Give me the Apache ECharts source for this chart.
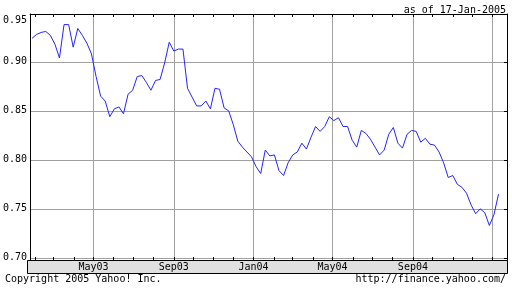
<!DOCTYPE html>
<html>
<head>
<meta charset="utf-8">
<script src="https://cdn.jsdelivr.net/npm/echarts@6/dist/echarts.min.js"></script>
<style>html,body{margin:0;padding:0;background:#fff}#c{width:512px;height:288px}</style>
</head>
<body>
<div id="c"></div>
<script>
// Weekly closing values, first week starting 2003-01-27
const startDate = '2003-01-27';
const values = [
  0.924, 0.928, 0.930, 0.931, 0.927, 0.918, 0.904, 0.938, 0.938, 0.915,
  0.934, 0.927, 0.919, 0.908, 0.885, 0.865, 0.860, 0.844, 0.852, 0.854,
  0.847, 0.867, 0.871, 0.885, 0.886, 0.879, 0.871, 0.881, 0.882, 0.899,
  0.920, 0.911, 0.913, 0.913, 0.873, 0.864, 0.855, 0.855, 0.860, 0.852,
  0.873, 0.872, 0.853, 0.850, 0.836, 0.819, 0.813, 0.808, 0.803, 0.793,
  0.786, 0.810, 0.804, 0.805, 0.789, 0.784, 0.797, 0.805, 0.808, 0.817,
  0.811, 0.823, 0.834, 0.829, 0.834, 0.844, 0.840, 0.843, 0.834, 0.834,
  0.820, 0.813, 0.830, 0.827, 0.821, 0.813, 0.805, 0.810, 0.826, 0.833,
  0.817, 0.812, 0.826, 0.830, 0.829, 0.818, 0.822, 0.816, 0.815, 0.808,
  0.797, 0.782, 0.784, 0.775, 0.772, 0.766, 0.754, 0.745, 0.750, 0.746,
  0.733, 0.744, 0.765
];
const gridDates = ['2003-05-01', '2003-09-01', '2004-01-01', '2004-05-01', '2004-09-01', '2005-01-01'];
const labelDates = ['2003-05-01', '2003-09-01', '2004-01-01', '2004-05-01', '2004-09-01'];
const monthTicks = [
  '2003-02-01','2003-03-01','2003-04-01','2003-05-01','2003-06-01','2003-07-01','2003-08-01',
  '2003-09-01','2003-10-01','2003-11-01','2003-12-01','2004-01-01','2004-02-01','2004-03-01',
  '2004-04-01','2004-05-01','2004-06-01','2004-07-01','2004-08-01','2004-09-01','2004-10-01',
  '2004-11-01','2004-12-01','2005-01-01'
];
const xMinDate = '2003-01-24', xMaxDate = '2005-01-23';
const yMin = 0.6978, yMax = 0.9488;

const monthNames = ['Jan','Feb','Mar','Apr','May','Jun','Jul','Aug','Sep','Oct','Nov','Dec'];
const ts = (s) => new Date(s + 'T00:00:00').getTime();
const t0 = ts(startDate);
const seriesData = values.map((v, i) => [t0 + i * 7 * 86400000, v]);
const gridTs = gridDates.map(ts);
const labelTs = labelDates.map(ts);
const monthTs = monthTicks.map(ts);
const xMin = ts(xMinDate), xMax = ts(xMaxDate);

const FONT = 'DejaVu Sans Mono';
const chart = echarts.init(document.getElementById('c'), null, {renderer: 'canvas'});
chart.setOption({
  animation: false,
  backgroundColor: '#fff',
  title: [
    {text: 'as of 17-Jan-2005', right: 1, top: 0, textStyle: {fontFamily: FONT, fontSize: 10, fontWeight: 'normal', color: '#000'}},
    {text: 'Copyright 2005 Yahoo! Inc.', left: 0, bottom: -1, textStyle: {fontFamily: FONT, fontSize: 10, fontWeight: 'normal', color: '#000'}},
    {text: 'http://finance.yahoo.com/', right: 1, bottom: -1, textStyle: {fontFamily: FONT, fontSize: 10, fontWeight: 'normal', color: '#000'}}
  ],
  graphic: [{
    type: 'rect', z: -1, shape: {x: 27.5, y: 260.5, width: 480, height: 13},
    style: {fill: '#e0e0e0', stroke: '#000', lineWidth: 1}
  }],
  grid: {left: 27, right: 5, top: 14, bottom: 28, show: false},
  xAxis: [
    {
      type: 'value', position: 'bottom', min: xMin, max: xMax, scale: true,
      axisLine: {show: true, lineStyle: {color: '#000', width: 1}},
      axisTick: {show: true, inside: true, length: 3, customValues: monthTs, lineStyle: {color: '#000'}},
      axisLabel: {
        customValues: labelTs, margin: 2, color: '#000', fontFamily: FONT, fontSize: 10,
        hideOverlap: false,
        formatter: (v) => { const d = new Date(v); return monthNames[d.getMonth()] + String(d.getFullYear()).slice(2); }
      },
      splitLine: {show: false}
    },
    {
      type: 'value', position: 'top', min: xMin, max: xMax, scale: true,
      axisLine: {show: true, lineStyle: {color: '#000', width: 1}},
      axisTick: {show: true, inside: true, length: 3, customValues: monthTs, lineStyle: {color: '#000'}},
      axisLabel: {show: false},
      splitLine: {show: false}
    },
    {
      type: 'value', position: 'bottom', min: xMin, max: xMax, scale: true,
      axisLine: {show: false},
      axisTick: {show: false, customValues: gridTs},
      axisLabel: {show: false},
      splitLine: {show: true, lineStyle: {color: '#a0a0a0', width: 1}}
    }
  ],
  yAxis: [
    {
      type: 'value', position: 'left', min: yMin, max: yMax, splitNumber: 5,
      axisLine: {show: true, lineStyle: {color: '#000', width: 1}},
      axisTick: {show: false},
      axisLabel: {
        margin: 3, color: '#000', fontFamily: FONT, fontSize: 10,
        showMinLabel: true, showMaxLabel: true,
        formatter: (v) => {
          if (v < 0.699) return '';
          if (v > 0.94) return '{t|0.95}';
          return v.toFixed(2);
        },
        rich: {t: {fontFamily: FONT, fontSize: 10, color: '#000', padding: [12, 0, 0, 0]}}
      },
      splitLine: {show: true, showMinLine: false, showMaxLine: false, lineStyle: {color: '#a0a0a0', width: 1}}
    },
    {
      type: 'value', position: 'right', min: yMin, max: yMax, splitNumber: 5,
      axisLine: {show: true, lineStyle: {color: '#000', width: 1}},
      axisTick: {show: true, inside: true, length: 3, lineStyle: {color: '#000'}},
      axisLabel: {show: false},
      splitLine: {show: false}
    }
  ],
  series: [{
    type: 'line', xAxisIndex: 0, yAxisIndex: 0, data: seriesData,
    showSymbol: false, symbol: 'none',
    lineStyle: {color: '#2424ff', width: 1},
    z: 5
  }]
});
</script>
</body>
</html>
